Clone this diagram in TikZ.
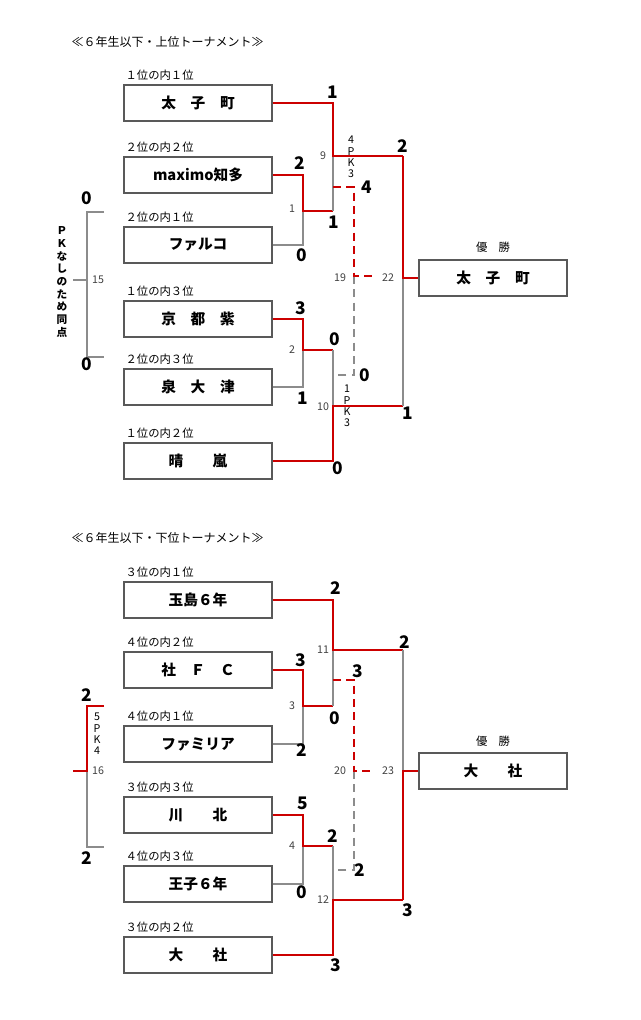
\documentclass[tikz,border=0pt]{standalone}
\usepackage{fontspec}
\setmainfont{Noto Sans CJK JP}
\usetikzlibrary{positioning}
\tikzset{
	team/.style={draw=black!65, line width=1pt, minimum width=111pt, minimum height=27pt, inner sep=0pt, font=\fontsize{11}{11}\selectfont\bfseries},
	seed/.style={anchor=west, font=\fontsize{8.5}{9}\selectfont},
	lose/.style={draw=black!45, line width=1pt},
	win/.style={draw=red!80!black, line width=2.2pt},
	thirdline/.style={dash pattern=on 6pt off 4pt},
	score/.style={font=\fontsize{13}{13}\selectfont\bfseries},
	num/.style={font=\fontsize{8}{8}\selectfont, text=black!75},
	pk/.style={font=\fontsize{8}{8.5}\selectfont, align=center}
}
\begin{document}
\begin{tikzpicture}[x=0.75pt, y=-0.75pt]
	\tikzstyle{every node}+=[inner sep=1pt]
	\useasboundingbox (0,0) rectangle (640,1020);
	% upper tournament
	\node[anchor=west, font=\fontsize{9}{9}\selectfont] at (70,42) {≪６年生以下・上位トーナメント≫};
	\node[team] (a1) at (198,103) {太　子　町};
	\node[team] (a2) at (198,175) {maximo知多};
	\node[team] (a3) at (198,245) {ファルコ};
	\node[team] (a4) at (198,319) {京　都　紫};
	\node[team] (a5) at (198,387) {泉　大　津};
	\node[team] (a6) at (198,461) {晴　　嵐};
	\node[seed] at (124,75) {１位の内１位};
	\node[seed] at (124,147) {２位の内２位};
	\node[seed] at (124,217) {２位の内１位};
	\node[seed] at (124,291) {１位の内３位};
	\node[seed] at (124,359) {２位の内３位};
	\node[seed] at (124,433) {１位の内２位};
	\node[team] (aw) at (493,278) {太　子　町};
	\node[font=\fontsize{8.5}{9}\selectfont] at (493,247) {優　勝};
	% first round
	\draw[lose] (a3.east) -- (303,245) -- (303,211);
	\draw[win] (a2.east) -- (303,175) -- (303,211) -- (333,211);
	\draw[lose] (a5.east) -- (303,387) -- (303,350);
	\draw[win] (a4.east) -- (303,319) -- (303,350) -- (333,350);
	% semi finals
	\draw[lose] (333,156) -- (333,211);
	\draw[win] (a1.east) -- (333,103) -- (333,156) -- (403,156);
	\draw[lose] (333,350) -- (333,406);
	\draw[win] (a6.east) -- (333,461) -- (333,406) -- (403,406);
	% third place
	\draw[lose, thirdline] (354,276) -- (354,375) -- (333,375);
	\draw[win, thirdline] (333,187) -- (354,187) -- (354,276) -- (372,276);
	% final
	\draw[lose] (403,278) -- (403,406);
	\draw[win] (403,156) -- (403,278) -- (aw.west);
	% PK-less tie
	\draw[lose] (104,212) -- (87,212) -- (87,357) -- (104,357);
	\draw[lose] (87,280) -- (73,280);
	\node[pk, font=\fontsize{8}{9.5}\selectfont\bfseries] at (62,282) {Ｐ\\Ｋ\\な\\し\\の\\た\\め\\同\\点};
	\node[num] at (98,280) {15};
	\node[score] at (87,198) {0};
	\node[score] at (87,364) {0};
	\node[num] at (292,209) {1};
	\node[num] at (292,350) {2};
	\node[num] at (323,156) {9};
	\node[num] at (323,407) {10};
	\node[num] at (340,278) {19};
	\node[num] at (388,278) {22};
	\node[score] at (333,92) {1};
	\node[score] at (300,163) {2};
	\node[score] at (334,222) {1};
	\node[score] at (302,255) {0};
	\node[score] at (301,308) {3};
	\node[score] at (335,339) {0};
	\node[score] at (303,398) {1};
	\node[score] at (338,468) {0};
	\node[score] at (367,187) {4};
	\node[score] at (365,375) {0};
	\node[score] at (403,146) {2};
	\node[score] at (408,413) {1};
	\node[pk] at (351,157) {4\\P\\K\\3};
	\node[pk] at (347,406) {1\\P\\K\\3};
	% lower tournament
	\node[anchor=west, font=\fontsize{9}{9}\selectfont] at (70,538) {≪６年生以下・下位トーナメント≫};
	\node[team] (b1) at (198,600) {玉島６年};
	\node[team] (b2) at (198,670) {社　Ｆ　Ｃ};
	\node[team] (b3) at (198,744) {ファミリア};
	\node[team] (b4) at (198,815) {川　　北};
	\node[team] (b5) at (198,884) {王子６年};
	\node[team] (b6) at (198,955) {大　　社};
	\node[seed] at (124,572) {３位の内１位};
	\node[seed] at (124,642) {４位の内２位};
	\node[seed] at (124,716) {４位の内１位};
	\node[seed] at (124,787) {３位の内３位};
	\node[seed] at (124,856) {４位の内３位};
	\node[seed] at (124,927) {３位の内２位};
	\node[team] (bw) at (493,771) {大　　社};
	\node[font=\fontsize{8.5}{9}\selectfont] at (493,741) {優　勝};
	% first round
	\draw[lose] (b3.east) -- (303,744) -- (303,706);
	\draw[win] (b2.east) -- (303,670) -- (303,706) -- (333,706);
	\draw[lose] (b5.east) -- (303,884) -- (303,846);
	\draw[win] (b4.east) -- (303,815) -- (303,846) -- (333,846);
	% semi finals
	\draw[lose] (333,650) -- (333,706);
	\draw[win] (b1.east) -- (333,600) -- (333,650) -- (403,650);
	\draw[lose] (333,846) -- (333,900);
	\draw[win] (b6.east) -- (333,955) -- (333,900) -- (403,900);
	% third place
	\draw[lose, thirdline] (354,771) -- (354,870) -- (333,870);
	\draw[win, thirdline] (333,680) -- (354,680) -- (354,771) -- (372,771);
	% final
	\draw[lose] (403,650) -- (403,771);
	\draw[win] (403,900) -- (403,771) -- (bw.west);
	% PK decided
	\draw[lose] (87,771) -- (87,847) -- (104,847);
	\draw[win] (104,706) -- (87,706) -- (87,771) -- (73,771);
	\node[pk] at (97,734) {5\\P\\K\\4};
	\node[num] at (98,771) {16};
	\node[score] at (87,695) {2};
	\node[score] at (87,858) {2};
	\node[num] at (292,706) {3};
	\node[num] at (292,846) {4};
	\node[num] at (323,650) {11};
	\node[num] at (323,900) {12};
	\node[num] at (340,771) {20};
	\node[num] at (388,771) {23};
	\node[score] at (336,588) {2};
	\node[score] at (301,660) {3};
	\node[score] at (335,718) {0};
	\node[score] at (302,750) {2};
	\node[score] at (303,803) {5};
	\node[score] at (333,836) {2};
	\node[score] at (302,892) {0};
	\node[score] at (336,965) {3};
	\node[score] at (358,671) {3};
	\node[score] at (360,870) {2};
	\node[score] at (405,642) {2};
	\node[score] at (408,910) {3};
\end{tikzpicture}
\end{document}
